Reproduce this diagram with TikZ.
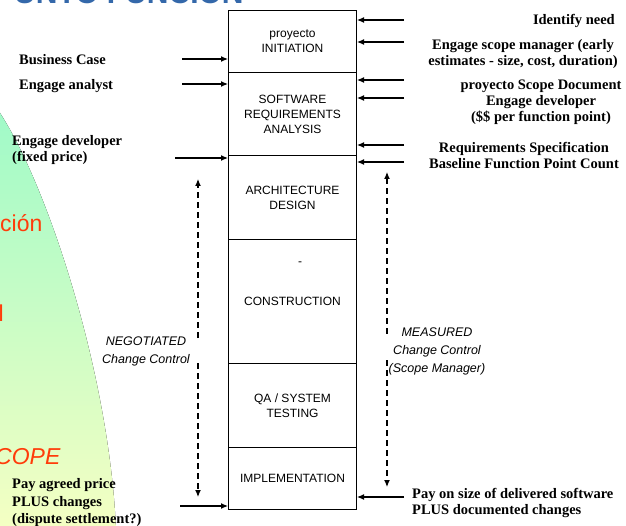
\documentclass[tikz,border=0pt]{standalone}
\usepackage{fontspec}
\setmainfont{Liberation Serif}
\newfontfamily\arialf{Liberation Sans}
\usetikzlibrary{arrows.meta}
\definecolor{titleblue}{RGB}{52,104,170}
\definecolor{orng}{RGB}{255,60,10}
\definecolor{greentop}{RGB}{160,250,200}
\definecolor{yellbot}{RGB}{245,255,195}
\begin{document}
\begin{tikzpicture}[x=1pt,y=-1pt,
  stage/.style={draw, line width=1pt, anchor=north west, minimum width=128pt, inner sep=0pt, align=center, font=\arialf\fontsize{12}{15}\selectfont},
  lbl/.style={font=\bfseries\fontsize{14.5}{16}\selectfont, inner sep=0pt},
  itl/.style={font=\arialf\itshape\fontsize{12.5}{18}\selectfont, inner sep=0pt, align=center},
  bigtxt/.style={text=orng, font=\arialf\fontsize{23}{23}\selectfont, inner sep=0pt, anchor=base west},
  arr/.style={line width=1.2pt, -{Latex[length=7pt,width=6pt]}},
  darr/.style={line width=1.2pt, dash pattern=on 6pt off 4pt, -{Latex[length=7pt,width=6pt]}}
]
\useasboundingbox (0,0) rectangle (626,526);
\clip (0,0) rectangle (626,526);
\fill[white] (0,0) rectangle (626,526);
% background shape
\fill[top color=greentop, bottom color=yellbot] (-2,113) -- (0,113) .. controls (50,190) and (110,380) .. (116,530) -- (-2,530) -- cycle;
% title fragment
\node[anchor=base west, text=titleblue, font=\arialf\bfseries\fontsize{30}{30}\selectfont, inner sep=0pt] (title) at (14,3.5) {UNTO FUNCION};
\node[bigtxt] (frag1) at (0,232) {ción};
\node[bigtxt] (frag2) at (-1.5,322) {l};
\node[bigtxt, font=\arialf\itshape\fontsize{23}{23}\selectfont] (frag3) at (-5,464) {COPE};
% stages
\node[stage, minimum height=62pt] (init) at (228,10) {proyecto\\INITIATION};
\node[stage, minimum height=83pt] (req) at (228,72) {SOFTWARE\\REQUIREMENTS\\ANALYSIS};
\node[stage, minimum height=84pt] (arch) at (228,155) {ARCHITECTURE\\DESIGN};
\node[stage, minimum height=124pt] (cons) at (228,239) {CONSTRUCTION};
\node[font=\arialf\fontsize{12}{15}\selectfont, inner sep=0pt] (dash) at (300,264) {-};
\node[stage, minimum height=84pt] (qa) at (228,363) {QA / SYSTEM\\TESTING};
\node[stage, minimum height=62pt] (impl) at (228,447) {IMPLEMENTATION};
% left labels
\node[lbl, anchor=mid west] (bc) at (19,62) {Business Case};
\node[lbl, anchor=mid west] (ea) at (19,87) {Engage analyst};
\node[lbl, anchor=west, align=left] (ed) at (12,150.5) {Engage developer\\(fixed price)};
\node[lbl, anchor=west, align=left, font=\bfseries\fontsize{14.5}{17.5}\selectfont] (pay) at (12,503) {Pay agreed price\\PLUS changes\\(dispute settlement?)};
% right labels
\node[lbl, anchor=mid east] (idn) at (615,22) {Identify need};
\node[lbl, align=center] (esm) at (523,54) {Engage scope manager (early\\estimates - size, cost, duration)};
\node[lbl, align=center] (psd) at (541,102) {proyecto Scope Document\\Engage developer\\(\$\$ per function point)};
\node[lbl, align=center] (rs) at (524,155.5) {Requirements Specification\\Baseline Function Point Count};
\node[lbl, anchor=west, align=left] (pos) at (412,502.5) {Pay on size of delivered software\\PLUS documented changes};
% italic labels
\node[itl] (neg) at (146,351) {NEGOTIATED\\Change Control};
\node[itl] (mea) at (437,351) {MEASURED\\Change Control\\(Scope Manager)};
% left arrows
\coordinate (la1) at (182,59);
\coordinate (la2) at (182,84);
\coordinate (la3) at (175,158);
\coordinate (la4) at (180,506);
\foreach \c in {la1,la2,la3,la4} \draw[arr] (\c) -- (\c -| init.west);
% right arrows
\coordinate (ra1) at (404,20);
\coordinate (ra2) at (404,42);
\coordinate (ra3) at (404,80);
\coordinate (ra4) at (404,98);
\coordinate (ra5) at (404,145);
\coordinate (ra6) at (404,162);
\coordinate (ra7) at (404,497);
\foreach \c in {ra1,ra2,ra3,ra4,ra5,ra6,ra7} \draw[arr] (\c) -- (\c -| init.east);
% dashed change-control arrows
\coordinate (nu0) at (198,338);
\coordinate (nu1) at (198,179);
\coordinate (nd0) at (198,363);
\coordinate (nd1) at (198,497);
\coordinate (mu0) at (387,334);
\coordinate (mu1) at (387,172);
\coordinate (md0) at (387,360);
\coordinate (md1) at (387,487);
\draw[darr] (nu0) -- (nu1);
\draw[darr] (nd0) -- (nd1);
\draw[darr] (mu0) -- (mu1);
\draw[darr] (md0) -- (md1);
\end{tikzpicture}
\end{document}
